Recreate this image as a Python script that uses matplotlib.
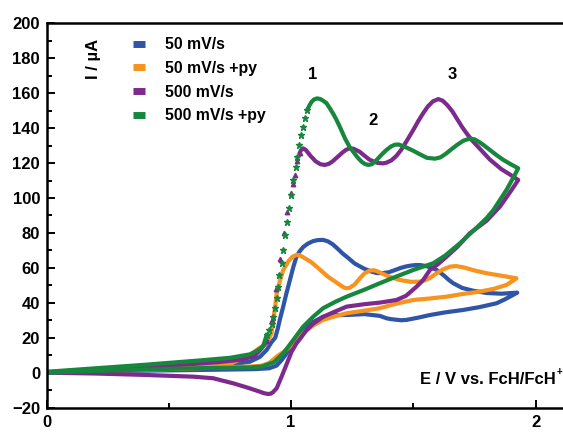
import matplotlib
matplotlib.use("Agg")
import matplotlib.pyplot as plt
from matplotlib import font_manager
from matplotlib.lines import Line2D
from matplotlib.ticker import MultipleLocator

# %% Data (E / V vs FcH/FcH+, I / uA)
blue_up_E = [0, 0.2, 0.4, 0.6, 0.75, 0.832, 0.872, 0.9, 0.92, 0.935, 0.945, 0.955, 0.968, 0.98,
             0.995, 1.01, 1.022, 1.035, 1.05, 1.07, 1.09, 1.11, 1.131, 1.15, 1.17, 1.19, 1.21,
             1.227, 1.26, 1.295, 1.325, 1.35, 1.375, 1.4, 1.42, 1.445, 1.47, 1.49, 1.51, 1.527,
             1.545, 1.565, 1.58, 1.595, 1.61, 1.63, 1.645, 1.663, 1.7, 1.745, 1.8, 1.86, 1.925]
blue_up_I = [0, 1, 2, 3.2, 4.5, 6.3, 9, 13, 17.5, 20, 25, 31, 38, 45,
             53, 61, 66.4, 69.5, 72, 74, 75.3, 75.9, 76, 75.2, 73.5, 71, 68.3,
             66.4, 62.5, 59.8, 58, 57, 57, 57.5, 58.5, 59.8, 60.8, 61.3, 61.6, 61.6,
             61.2, 60.5, 59.8, 58.8, 57.3, 55, 53.1, 51.2, 48.5, 46.9, 45.6, 45.2, 45.8]
blue_down_E = [1.925, 1.908, 1.875, 1.84, 1.77, 1.704, 1.63, 1.568, 1.52, 1.472, 1.45, 1.43,
               1.41, 1.391, 1.363, 1.3, 1.227, 1.17, 1.131, 1.09, 1.049, 1.025, 1.009, 0.982,
               0.96, 0.94, 0.91, 0.85, 0.6, 0.3, 0]
blue_down_I = [45.8, 44.5, 42, 39.7, 37.5, 35.9, 34.5, 33, 31.5, 30.2, 30, 30.3,
               30.6, 31.1, 32.5, 33.5, 33, 33, 32, 29, 24.4, 20.5, 16.8, 11.1,
               7, 4, 2.5, 2, 1.5, 1, 0]

orange_up_E = [0, 0.2, 0.4, 0.6, 0.75, 0.832, 0.859, 0.88, 0.9, 0.92, 0.927, 0.935, 0.941,
               0.955, 0.968, 0.99, 1.005, 1.022, 1.035, 1.05, 1.08, 1.104, 1.15, 1.2, 1.215,
               1.227, 1.24, 1.26, 1.281, 1.3, 1.322, 1.34, 1.356, 1.38, 1.4, 1.445, 1.49, 1.527,
               1.55, 1.565, 1.58, 1.595, 1.62, 1.65, 1.675, 1.704, 1.75, 1.8, 1.86, 1.922]
orange_up_I = [0, 1, 2, 3.4, 5, 10, 13, 15, 16.8, 22.5, 30.2, 38, 45.4,
               53, 58.8, 64, 66.3, 67.4, 67.2, 66, 63.5, 60.7, 55, 50.2, 48.8,
               48.3, 48.6, 50.5, 54, 56.8, 58.5, 58.6, 57.8, 56.3, 55, 53, 52, 52.1,
               53, 54, 55.4, 56.9, 59, 60.7, 61, 60.3, 58.5, 56.9, 55.5, 54]
orange_down_E = [1.922, 1.881, 1.83, 1.772, 1.7, 1.636, 1.57, 1.5, 1.43, 1.363, 1.3, 1.227,
                 1.18, 1.131, 1.09, 1.049, 1.02, 0.995, 0.97, 0.941, 0.91, 0.88, 0.832, 0.6,
                 0.3, 0]
orange_down_I = [54, 50.2, 48, 46.4, 45, 43.5, 42.5, 41.6, 39.5, 36.9, 35.5, 34,
                 32.3, 30.2, 27, 22.5, 18.5, 14.9, 12, 9.2, 5.5, 4, 3.5, 2.5,
                 1.2, 0]

purple_low_E = [0, 0.2, 0.4, 0.6, 0.7, 0.8, 0.85, 0.88, 0.9]
purple_low_I = [0.3, 1.8, 3.3, 5, 6, 7.5, 9.5, 14, 18]
purple_rise_E = [0.9, 0.92, 0.94, 0.955, 0.97, 0.985, 0.999, 1.009, 1.016, 1.026, 1.036]
purple_rise_I = [18, 30, 48, 65, 80, 92, 102.7, 108, 113, 121, 126]
purple_top_E = [1.036, 1.042, 1.049, 1.06, 1.08, 1.1, 1.12, 1.138, 1.155, 1.17, 1.19, 1.21,
                1.225, 1.24, 1.255, 1.28, 1.3, 1.32, 1.34, 1.356, 1.375, 1.39, 1.41, 1.43,
                1.45, 1.47, 1.5, 1.52, 1.54, 1.56, 1.58, 1.602, 1.62, 1.64, 1.66, 1.68, 1.7,
                1.718, 1.74, 1.77, 1.813, 1.86, 1.9, 1.929]
purple_top_I = [126, 127.8, 128.4, 127.5, 124, 121, 119.3, 118.9, 119.6, 121, 123.5, 126,
                127.6, 128.4, 128.2, 126.5, 124.2, 122, 120.7, 120, 119.8, 120.2, 121.5, 124,
                127.5, 132, 139, 144, 148.5, 152.5, 155.3, 156.6, 155.7, 153, 149.5, 145, 140.5,
                137, 133, 128.5, 122, 116.5, 113, 110.3]
purple_down_E = [1.929, 1.902, 1.854, 1.8, 1.759, 1.731, 1.68, 1.636, 1.6, 1.568, 1.54, 1.513,
                 1.47, 1.431, 1.363, 1.3, 1.227, 1.18, 1.131, 1.09, 1.063, 1.04, 1.022, 1.002,
                 0.982, 0.961, 0.941, 0.925, 0.915, 0.906, 0.89, 0.872, 0.82, 0.763, 0.681, 0.6,
                 0.4, 0.2, 0]
purple_down_I = [110.3, 104.6, 95, 87, 82.7, 79.8, 72, 66.4, 62, 58.8, 53, 49.2,
                 44, 41.6, 40.1, 39.2, 37.8, 35, 32, 28, 24.4, 20, 16.8, 12,
                 5, -2.3, -8.9, -11.3, -12.1, -12.2, -11.8, -10.9, -8.5, -6.1, -3.2, -2.3,
                 -1.3, -0.5, 0]

green_low_E = [0, 0.2, 0.4, 0.627, 0.75, 0.832, 0.86, 0.885, 0.9]
green_low_I = [0.5, 2.5, 4.5, 7, 8.5, 10.5, 12.5, 15, 21.5]
green_rise_E = [0.9, 0.911, 0.92, 0.927, 0.934, 0.941, 0.947, 0.951, 0.961, 0.968, 0.975,
                0.984, 0.992, 0.999, 1.006, 1.018, 1.026, 1.033, 1.04, 1.047, 1.056, 1.066]
green_rise_I = [21.5, 24.4, 28, 32, 36.9, 42.6, 49.2, 55.9, 62.6, 70.2, 78.8,
                86.4, 94, 101.7, 110.3, 118, 123.6, 130.3, 136, 140.8, 145.6, 150.4]
green_top_E = [1.066, 1.075, 1.084, 1.095, 1.107, 1.12, 1.133, 1.145, 1.16, 1.175, 1.186, 1.2,
               1.22, 1.24, 1.254, 1.27, 1.288, 1.3, 1.315, 1.33, 1.35, 1.37, 1.39, 1.41, 1.425,
               1.44, 1.47, 1.5, 1.52, 1.555, 1.588, 1.61, 1.63, 1.655, 1.68, 1.705, 1.731,
               1.75, 1.77, 1.79, 1.813, 1.84, 1.868, 1.9, 1.929]
green_top_I = [150.4, 153, 155.1, 156.5, 157, 156.6, 155.5, 154.2, 151, 147.5, 144.6, 140.5,
               134.2, 129, 126.5, 123.5, 120.8, 119.6, 118.9, 119.3, 121.8, 124.8, 127.5, 129.6,
               130.5, 130.6, 129, 127, 125.5, 123, 122.5, 123.2, 125, 127.8, 130.5, 132.8, 134,
               133.6, 132, 130, 127.5, 124.6, 121.8, 119.2, 117]
green_down_E = [1.929, 1.915, 1.881, 1.827, 1.8, 1.759, 1.69, 1.63, 1.581, 1.5, 1.43, 1.363,
                1.3, 1.227, 1.18, 1.131, 1.09, 1.049, 1.009, 0.968, 0.93, 0.88, 0.83, 0.6,
                0.4, 0.2, 0]
green_down_I = [117, 113.2, 104.6, 93, 88.5, 83, 74, 67, 62.6, 58.8, 55, 51.2,
                47.5, 43.5, 40.5, 36.9, 32, 26.3, 18.7, 11.1, 6, 3.5, 3, 2.5,
                1.8, 1, 0]

labels = ["50 mV/s", "50 mV/s +py", "500 mV/s", "500 mV/s +py"]
colors = ["#2f55a6", "#f7931e", "#7d2a8d", "#17873d"]
peak_labels = ["1", "2", "3"]
peak_E = [1.089, 1.335, 1.658]
peak_I = [170.4, 144.6, 170.4]

# %% Style
available = {f.name for f in font_manager.fontManager.ttflist}
if "Liberation Sans Narrow" in available:
    family = ["Liberation Sans Narrow", "DejaVu Sans"]
    fs = 12.5
else:
    family = ["Liberation Sans", "DejaVu Sans"]
    fs = 12
plt.rcParams["font.family"] = family
plt.rcParams["font.weight"] = "bold"

fig = plt.figure(figsize=(5.63, 4.32), dpi=100)
ax = fig.add_axes([0.0829, 0.0565, 0.917, 0.8896])

lw = 3.0
ax.plot(blue_up_E + blue_down_E, blue_up_I + blue_down_I, color=colors[0], lw=lw)
ax.plot(orange_up_E + orange_down_E, orange_up_I + orange_down_I, color=colors[1], lw=lw)

ax.plot(purple_low_E, purple_low_I, color=colors[2], lw=lw)
ax.plot(purple_rise_E, purple_rise_I, ls="none", marker="^", ms=3.2, color=colors[2])
ax.plot(purple_top_E + purple_down_E, purple_top_I + purple_down_I, color=colors[2], lw=lw)

ax.plot(green_low_E, green_low_I, color=colors[3], lw=lw)
ax.plot(green_rise_E, green_rise_I, ls="none", marker="*", ms=4.5, color=colors[3])
ax.plot(green_top_E + green_down_E, green_top_I + green_down_I, color=colors[3], lw=lw)

ax.set_xlim(0, 2.112)
ax.set_ylim(-20, 200)
ax.xaxis.set_major_locator(MultipleLocator(1))
ax.xaxis.set_minor_locator(MultipleLocator(0.5))
ax.yaxis.set_major_locator(MultipleLocator(20))
ax.yaxis.set_minor_locator(MultipleLocator(10))
ax.tick_params(which="both", direction="in", width=1.4, labelsize=fs)
ax.tick_params(which="major", length=5.5)
ax.tick_params(which="minor", length=3.5)
ax.tick_params(axis="y", pad=4.8)
ax.tick_params(axis="x", pad=5)
ax.spines["right"].set_visible(False)
for s in ["left", "bottom", "top"]:
    ax.spines[s].set_linewidth(1.8)

handles = [Line2D([], [], color=c, lw=5, solid_capstyle="butt") for c in colors]
ax.legend(handles, labels, loc="upper left", bbox_to_anchor=(0.167, 0.964),
          frameon=False, fontsize=fs - 0.6, handlelength=0.75, handletextpad=1.25,
          labelspacing=0.55, borderpad=0, borderaxespad=0)

ax.text(0.0916, 0.907, "I / µA", transform=ax.transAxes, rotation=90,
        ha="center", va="center", fontsize=fs)
ax.text(2.083, -6.5, "E / V vs. FcH/FcH", ha="right", va="baseline", fontsize=fs)
ax.text(2.087, -1.5, "+", ha="left", va="baseline", fontsize=fs * 0.6)

for lab, e, i in zip(peak_labels, peak_E, peak_I):
    ax.text(e, i, lab, ha="center", va="center", fontsize=fs)

fig.savefig("out.png", dpi=100)
